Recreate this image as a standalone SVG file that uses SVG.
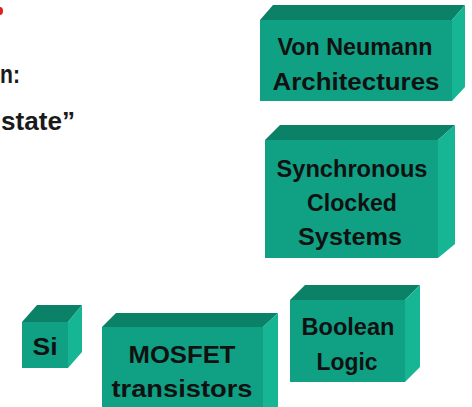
<svg xmlns="http://www.w3.org/2000/svg" width="472" height="407" viewBox="0 0 472 407">
<style>
.front{fill:#10a084}
.top{fill:#0b8168}
.side{fill:#16b594}
.lbl{font-family:"Liberation Sans","DejaVu Sans",sans-serif;font-size:23px;font-weight:bold;fill:#111;text-anchor:middle}
.slide{font-family:"Liberation Sans","DejaVu Sans",sans-serif;font-size:25px;fill:#1a1a1a;font-weight:bold}
</style>
<rect width="472" height="407" fill="#ffffff"/>
<g id="slide-text">
<ellipse cx="0" cy="11" rx="3" ry="4" fill="#e0201c"/>
<text class="slide" x="0" y="83" textLength="20" lengthAdjust="spacingAndGlyphs">n:</text>
<text class="slide" x="1" y="130" textLength="74" lengthAdjust="spacingAndGlyphs">state”</text>
</g>
<g id="von-neumann">
<polygon class="top" points="260,20 273,5 465,5 452,20"/>
<polygon class="side" points="452,20 465,5 465,87 452,101"/>
<rect class="front" x="260" y="20" width="192" height="81"/>
<text class="lbl" x="355" y="55" textLength="155" lengthAdjust="spacingAndGlyphs">Von Neumann</text>
<text class="lbl" x="356" y="90" textLength="167" lengthAdjust="spacingAndGlyphs">Architectures</text>
</g>
<g id="synchronous">
<polygon class="top" points="265,140 280,125 455,125 438,140"/>
<polygon class="side" points="438,140 455,125 455,244 438,258"/>
<rect class="front" x="265" y="140" width="173" height="118"/>
<text class="lbl" x="352" y="177" textLength="151" lengthAdjust="spacingAndGlyphs">Synchronous</text>
<text class="lbl" x="352" y="211" textLength="90" lengthAdjust="spacingAndGlyphs">Clocked</text>
<text class="lbl" x="350" y="245" textLength="104" lengthAdjust="spacingAndGlyphs">Systems</text>
</g>
<g id="si">
<polygon class="top" points="22,322 37,305 82,305 68,322"/>
<polygon class="side" points="68,322 82,305 82,352 68,368"/>
<rect class="front" x="22" y="322" width="46" height="46"/>
<text class="lbl" x="45" y="355" textLength="25" lengthAdjust="spacingAndGlyphs">Si</text>
</g>
<g id="mosfet">
<polygon class="top" points="102,327 116,313 278,313 263,327"/>
<polygon class="side" points="263,327 278,313 278,407 263,407"/>
<rect class="front" x="102" y="327" width="161" height="80"/>
<text class="lbl" x="182" y="363" textLength="107" lengthAdjust="spacingAndGlyphs">MOSFET</text>
<text class="lbl" x="182" y="397" textLength="141" lengthAdjust="spacingAndGlyphs">transistors</text>
</g>
<g id="boolean">
<polygon class="top" points="290,300 305,285 420,285 405,300"/>
<polygon class="side" points="405,300 420,285 420,367 405,382"/>
<rect class="front" x="290" y="300" width="115" height="82"/>
<text class="lbl" x="348" y="335" textLength="93" lengthAdjust="spacingAndGlyphs">Boolean</text>
<text class="lbl" x="347" y="370" textLength="61" lengthAdjust="spacingAndGlyphs">Logic</text>
</g>
</svg>
